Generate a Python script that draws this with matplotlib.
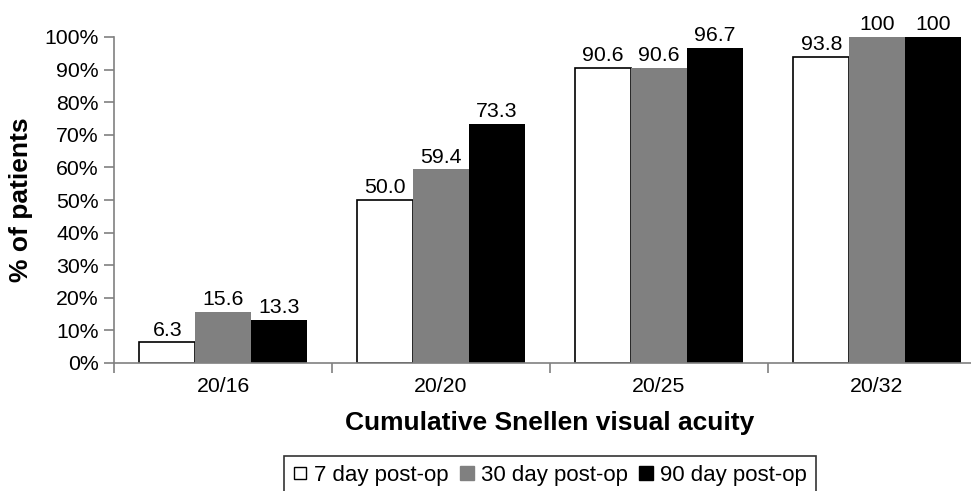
import matplotlib
matplotlib.use("Agg")
import matplotlib.pyplot as plt
import numpy as np
from matplotlib.lines import Line2D

plt.rcParams['font.family'] = ['Liberation Sans', 'DejaVu Sans']

categories = ["20/16", "20/20", "20/25", "20/32"]
series_names = ["7 day post-op", "30 day post-op", "90 day post-op"]
day7 = [6.3, 50.0, 90.6, 93.8]
day30 = [15.6, 59.4, 90.6, 100]
day90 = [13.3, 73.3, 96.7, 100]
labels7 = ["6.3", "50.0", "90.6", "93.8"]
labels30 = ["15.6", "59.4", "90.6", "100"]
labels90 = ["13.3", "73.3", "96.7", "100"]

fig = plt.figure(figsize=(9.71, 4.91), dpi=100)
ax = fig.add_axes([114/971, 1-363/491, 872/971, 326/491])

x = np.arange(len(categories))
w = 0.256
fs = 15.3
styles = [dict(color="white", edgecolor="black", linewidth=1.2),
          dict(color="#808080", edgecolor="#808080", linewidth=0),
          dict(color="black", edgecolor="black", linewidth=0)]
for i, (vals, labs) in enumerate([(day7, labels7), (day30, labels30), (day90, labels90)]):
    bars = ax.bar(x + (i-1)*w, vals, w, **styles[i], zorder=2)
    ax.bar_label(bars, labels=labs, padding=2, fontsize=fs)

ax.set_xlim(-0.5, 3.5)
ax.set_ylim(0, 100)
ax.set_yticks(np.arange(0, 101, 10))
ax.set_yticklabels([f"{v}%" for v in range(0, 101, 10)], fontsize=fs)
ax.set_xticks(x)
ax.set_xticklabels(categories, fontsize=fs)
ax.set_xticks(np.arange(-0.5, 3.6, 1), minor=True)
ax.tick_params(axis='x', which='major', length=0, pad=10)
ax.tick_params(axis='x', which='minor', length=7, color="#808080", width=1.2)
ax.tick_params(axis='y', length=7, color="#808080", width=1.2, pad=4)
for s in ["top", "right"]:
    ax.spines[s].set_visible(False)
for s in ["left", "bottom"]:
    ax.spines[s].set_color("#808080")
    ax.spines[s].set_linewidth(1.2)

ax.set_xlabel("Cumulative Snellen visual acuity", fontsize=19, fontweight="bold")
ax.set_ylabel("% of patients", fontsize=19, fontweight="bold")
ax.xaxis.set_label_coords((550-114)/872, -(423-363)/326)
ax.yaxis.set_label_coords(-(114-21)/872, 0.5)
ax.xaxis.label.set_va("center")
ax.yaxis.label.set_va("center")

handles = [Line2D([], [], marker="s", linestyle="none", markersize=8, markerfacecolor="white", markeredgecolor="black", markeredgewidth=1),
           Line2D([], [], marker="s", linestyle="none", markersize=10, markerfacecolor="#808080", markeredgecolor="#808080"),
           Line2D([], [], marker="s", linestyle="none", markersize=10, markerfacecolor="black", markeredgecolor="black")]
leg = fig.legend(handles, series_names, loc="upper center", bbox_to_anchor=(550/971, 1-456/491), ncol=3,
                 fontsize=16, frameon=True, fancybox=False, edgecolor="black", handlelength=0.63,
                 handletextpad=0.33, columnspacing=0.48, borderpad=0.4, borderaxespad=0)
leg.get_frame().set_linewidth(1.2)

fig.savefig("out.png", dpi=100)
